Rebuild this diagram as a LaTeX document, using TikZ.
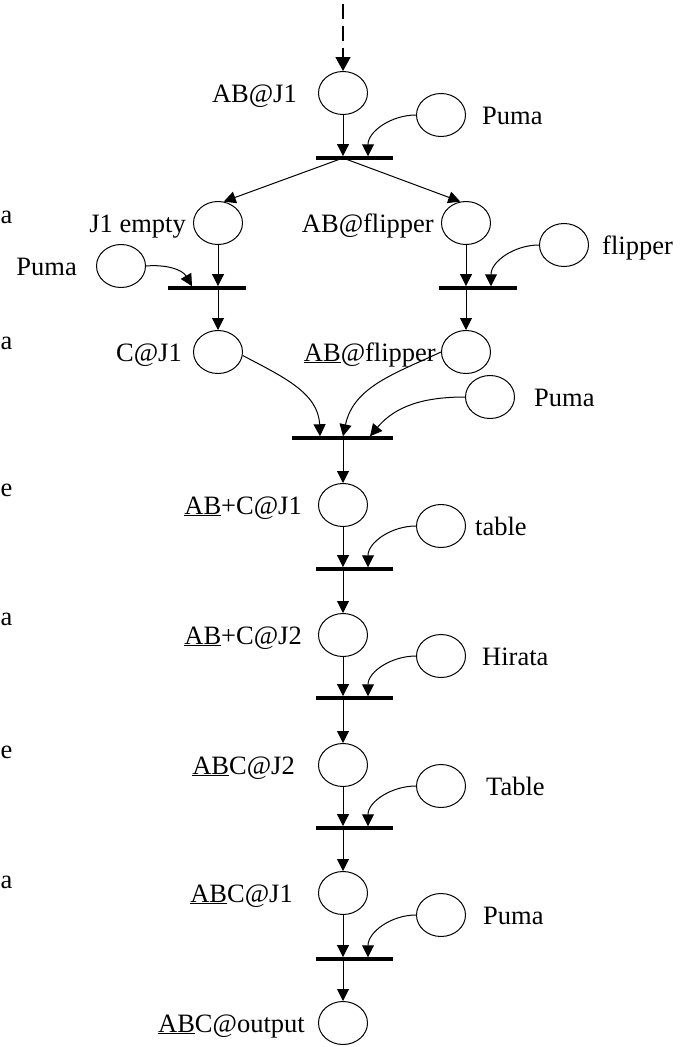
\documentclass[tikz,border=0pt]{standalone}
\usepackage{fontspec}
\setmainfont{Liberation Serif}
\usetikzlibrary{arrows.meta,shapes.geometric}
\begin{document}
\begin{tikzpicture}[x=1pt,y=-1pt,
  place/.style={draw, ellipse, line width=1pt, minimum width=49pt, minimum height=43pt, inner sep=0pt},
  trans/.style={fill=black, rectangle, minimum height=3.5pt, inner sep=0pt},
  arr/.style={line width=1pt, -{Triangle[length=12pt,width=12pt]}},
  txt/.style={font=\fontsize{26.5}{30}\selectfont, inner sep=0pt},
  lbl/.style={txt, anchor=base east},
  rlbl/.style={txt, anchor=base west}]
\useasboundingbox (0,0) rectangle (684,1047);
\clip (0,0) rectangle (684,1047);

% places of the main chain
\node[place] (abj1) at (343,93) {};
\node[place] (j1e) at (218,223) {};
\node[place] (abf) at (466,223) {};
\node[place] (cj1) at (218,352) {};
\node[place] (abf2) at (466,352) {};
\node[place] (abcj1) at (343,505) {};
\node[place] (abcj2) at (343,635) {};
\node[place] (abcJ2) at (343,765) {};
\node[place] (abcJ1) at (343,893) {};
\node[place] (abcout) at (343,1023) {};

% resource places
\node[place] (puma1) at (441,115) {};
\node[place] (pumaL) at (121,266) {};
\node[place] (flip) at (564,245) {};
\node[place] (puma2) at (490,397) {};
\node[place] (table1) at (441,526) {};
\node[place] (hirata) at (441,656) {};
\node[place] (table2) at (441,786) {};
\node[place] (puma3) at (441,915) {};

% transitions
\node[trans, minimum width=77pt] (t1) at (354.5,158) {};
\node[trans, minimum width=78pt] (t2L) at (207,288) {};
\node[trans, minimum width=78pt] (t2R) at (478,288) {};
\node[trans, minimum width=101pt] (t3) at (342.5,438) {};
\node[trans, minimum width=77pt] (t4) at (354.5,569) {};
\node[trans, minimum width=77pt] (t5) at (354.5,698) {};
\node[trans, minimum width=77pt] (t6) at (354.5,828) {};
\node[trans, minimum width=77pt] (t7) at (354.5,959) {};

% input points of the resource arcs
\coordinate (src) at (343,4);
\coordinate (t1r) at (368,156.25);
\coordinate (t2Ll) at (192,286.25);
\coordinate (t2Rr) at (491,286.25);
\coordinate (t3l) at (320,436.25);
\coordinate (t3m) at (343,436.25);
\coordinate (t3r) at (370,436.25);
\coordinate (t4r) at (368,567.25);
\coordinate (t5r) at (368,696.25);
\coordinate (t6r) at (368,826.25);
\coordinate (t7r) at (368,957.25);

% labels
\node[lbl] at (297,102) {AB@J1};
\node[lbl] at (186,232) {J1 empty};
\node[lbl] at (434,232) {AB@flipper};
\node[lbl] at (182,361) {C@J1};
\node[lbl] at (436,361) {\underline{AB}@flipper};
\node[lbl] at (302,514) {\underline{AB}+C@J1};
\node[lbl] at (302,644) {\underline{AB}+C@J2};
\node[lbl] at (295,774) {\underline{AB}C@J2};
\node[lbl] at (293,902) {\underline{AB}C@J1};
\node[lbl] at (305,1032) {\underline{AB}C@output};

\node[rlbl] at (482,124) {Puma};
\node[lbl] at (77,275) {Puma};
\node[rlbl] at (602,254) {flipper};
\node[rlbl] at (534,406) {Puma};
\node[rlbl] at (475,535) {table};
\node[rlbl] at (482,665) {Hirata};
\node[rlbl] at (486,795) {Table};
\node[rlbl] at (483,924) {Puma};

% letters at the left margin
\node[rlbl] at (0.5,223) {a};
\node[rlbl] at (0.5,349) {a};
\node[rlbl] at (0.5,496) {e};
\node[rlbl] at (0.5,625) {a};
\node[rlbl] at (0.5,758) {e};
\node[rlbl] at (0.5,888) {a};

% incoming arc
\draw[line width=1.8pt, dash pattern=on 15pt off 7pt, -{Triangle[length=14pt,width=15pt]}] (src) -- (abj1);

% first transition
\draw[arr] (abj1) -- (abj1 |- t1.north);
\draw[arr] (puma1.west) to[out=180,in=90] (t1r);
\draw[arr] (t1.center -| abj1) -- (j1e.75);
\draw[arr] (t1.center -| abj1) -- (abf.105);

% parallel branches
\draw[arr] (j1e) -- (j1e |- t2L.north);
\draw[arr] (pumaL.east) to[out=5,in=120] (t2Ll);
\draw[arr] (t2L.center -| j1e) -- (cj1);
\draw[arr] (abf) -- (abf |- t2R.north);
\draw[arr] (flip.west) to[out=180,in=90] (t2Rr);
\draw[arr] (t2R.center -| abf) -- (abf2);

% join
\draw[arr] (cj1.-8) to[out=-28,in=92] (t3l);
\draw[arr] (abf2.west) to[out=205,in=78] (t3m);
\draw[arr] (puma2.west) to[out=180,in=50] (t3r);
\draw[arr] (t3.center -| abcj1) -- (abcj1);

% lower chain
\draw[arr] (abcj1) -- (abcj1 |- t4.north);
\draw[arr] (table1.west) to[out=180,in=90] (t4r);
\draw[arr] (t4.center -| abcj2) -- (abcj2);
\draw[arr] (abcj2) -- (abcj2 |- t5.north);
\draw[arr] (hirata.west) to[out=180,in=90] (t5r);
\draw[arr] (t5.center -| abcJ2) -- (abcJ2);
\draw[arr] (abcJ2) -- (abcJ2 |- t6.north);
\draw[arr] (table2.west) to[out=180,in=90] (t6r);
\draw[arr] (t6.center -| abcJ1) -- (abcJ1);
\draw[arr] (abcJ1) -- (abcJ1 |- t7.north);
\draw[arr] (puma3.west) to[out=180,in=90] (t7r);
\draw[arr] (t7.center -| abcout) -- (abcout);
\end{tikzpicture}
\end{document}
